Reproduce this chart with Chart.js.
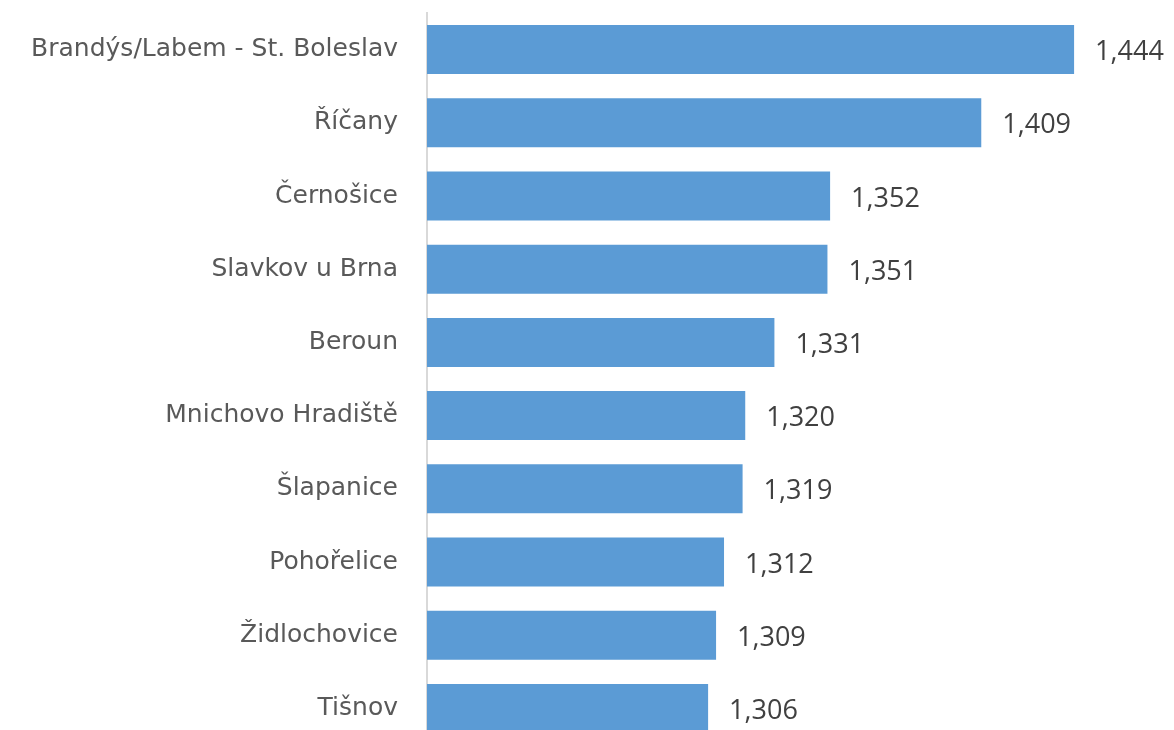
<!DOCTYPE html>
<html>
<head>
<meta charset="utf-8">
<script src="https://cdn.jsdelivr.net/npm/chart.js@4"></script>
<style>
  html, body { margin: 0; padding: 0; background: #fff; overflow: hidden; }
  #wrap { width: 1174px; height: 748px; }
</style>
</head>
<body>
<div id="wrap"><canvas id="chart"></canvas></div>
<script>
var labels = ["Brandýs/Labem - St. Boleslav", "Říčany", "Černošice", "Slavkov u Brna", "Beroun",
              "Mnichovo Hradiště", "Šlapanice", "Pohořelice", "Židlochovice", "Tišnov"];
var values = [1.444, 1.409, 1.352, 1.351, 1.331, 1.320, 1.319, 1.312, 1.309, 1.306];
var axisMin = 1.2;
var axisMax = 1.45;

// value labels right of each bar, comma as decimal sign
var valueLabels = {
    id: 'valueLabels',
    afterDatasetsDraw: function(chart) {
        var ctx = chart.ctx;
        var meta = chart.getDatasetMeta(0);
        ctx.save();
        ctx.font = '27px "Open Sans"';
        ctx.fillStyle = '#404040';
        ctx.textAlign = 'left';
        ctx.textBaseline = 'middle';
        meta.data.forEach(function(bar, i) {
            var txt = values[i].toFixed(3).replace('.', ',');
            ctx.fillText(txt, bar.x + 21, bar.y + 3);
        });
        ctx.restore();
    }
};

var ctx = document.getElementById('chart').getContext('2d');
var chart = new Chart(ctx, {
    type: 'bar',
    data: {
        labels: labels,
        datasets: [{
            data: values,
            backgroundColor: '#5b9bd5',
            barPercentage: 0.67,
            categoryPercentage: 1
        }]
    },
    options: {
        indexAxis: 'y',
        responsive: true,
        maintainAspectRatio: false,
        animation: false,
        layout: { padding: { top: 13, right: 84, bottom: 3, left: 0 } },
        plugins: { legend: { display: false }, tooltip: { enabled: false } },
        scales: {
            x: {
                display: false,
                min: axisMin,
                max: axisMax
            },
            y: {
                afterFit: function(scale) {
                    scale.width = 427;
                    scale.paddingTop = 0;
                    scale.paddingBottom = 0;
                },
                grid: { display: false, drawTicks: false },
                border: { display: true, color: '#d9d9d9', width: 2 },
                ticks: {
                    padding: 29,
                    color: '#595959',
                    font: { family: '"DejaVu Sans"', size: 25 }
                }
            }
        }
    },
    plugins: [valueLabels]
});
</script>
</body>
</html>
